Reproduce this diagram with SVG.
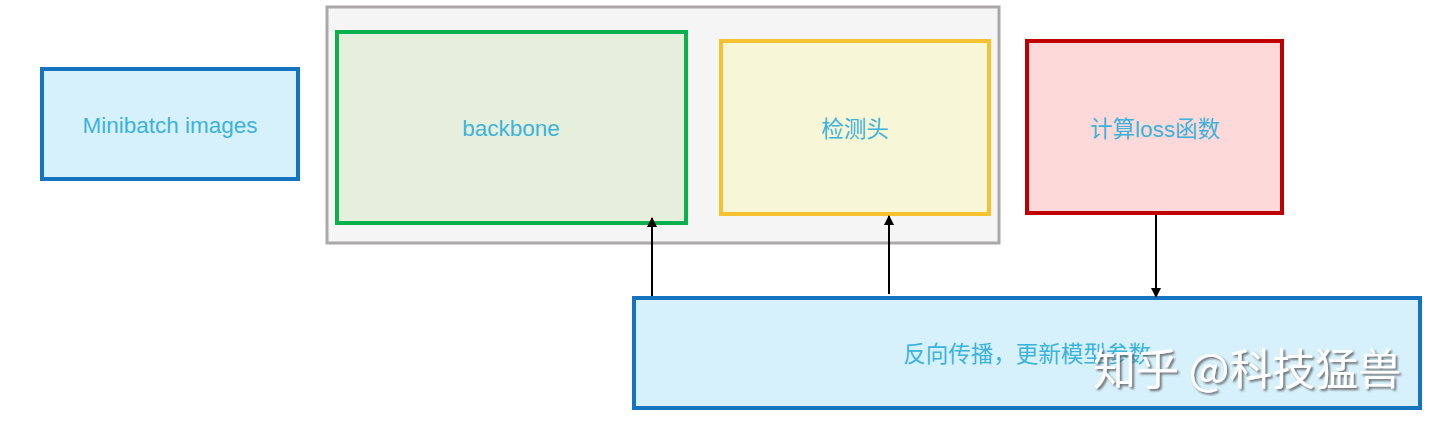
<svg xmlns="http://www.w3.org/2000/svg" width="1440" height="426" viewBox="0 0 1440 426">
<defs>
<style>
.lbl{font-family:"Liberation Sans","Noto Sans CJK SC",sans-serif;font-size:22.5px;fill:#3cb3dc;text-anchor:middle;dominant-baseline:central}
.ln{stroke:#000;stroke-width:2;fill:none;marker-end:url(#ah)}
.wm{font-family:"Noto Sans CJK SC",sans-serif;font-size:43px;fill:#ffffff}
</style>
<marker id="ah" viewBox="0 0 10 10" refX="9" refY="5" markerWidth="5" markerHeight="5" orient="auto"><path d="M0,0 L10,5 L0,10 z" fill="#000"/></marker>
<filter id="sh" x="-10%" y="-20%" width="120%" height="150%"><feDropShadow dx="2" dy="2" stdDeviation="1.2" flood-color="#555" flood-opacity="0.8"/></filter>
</defs>
<rect width="1440" height="426" fill="#fff"/>
<g id="container"><rect x="327" y="7" width="672" height="236" fill="#f5f5f5" stroke="#aba8a8" stroke-width="3"/></g>
<g id="minibatch"><rect x="42" y="69" width="256" height="110" fill="#d6f1fc" stroke="#1574c0" stroke-width="4"/><text class="lbl" x="170" y="125">Minibatch images</text></g>
<g id="backbone"><rect x="337" y="32" width="349" height="191" fill="#e6efdc" stroke="#0bb04f" stroke-width="4"/><text class="lbl" x="511" y="128">backbone</text></g>
<g id="head"><rect x="721" y="41" width="268" height="173" fill="#f7f6d6" stroke="#f6c22f" stroke-width="4"/><text class="lbl" x="855" y="129">检测头</text></g>
<g id="loss"><rect x="1027" y="41" width="255" height="172" fill="#fdd9d9" stroke="#c00000" stroke-width="4"/><text class="lbl" x="1155" y="129">计算loss函数</text></g>
<g id="backprop"><rect x="634" y="298" width="786" height="110" fill="#d6f1fc" stroke="#1574c0" stroke-width="4"/><text class="lbl" x="1027" y="354">反向传播，更新模型参数</text></g>
<g id="connectors">
<line class="ln" x1="652" y1="296" x2="652" y2="218"/>
<line class="ln" x1="889" y1="294" x2="889" y2="216"/>
<line class="ln" x1="1156" y1="215" x2="1156" y2="297"/>
</g>
<g id="watermark"><text class="wm" x="1093" y="385" filter="url(#sh)">知乎 @科技猛兽</text></g>
</svg>
